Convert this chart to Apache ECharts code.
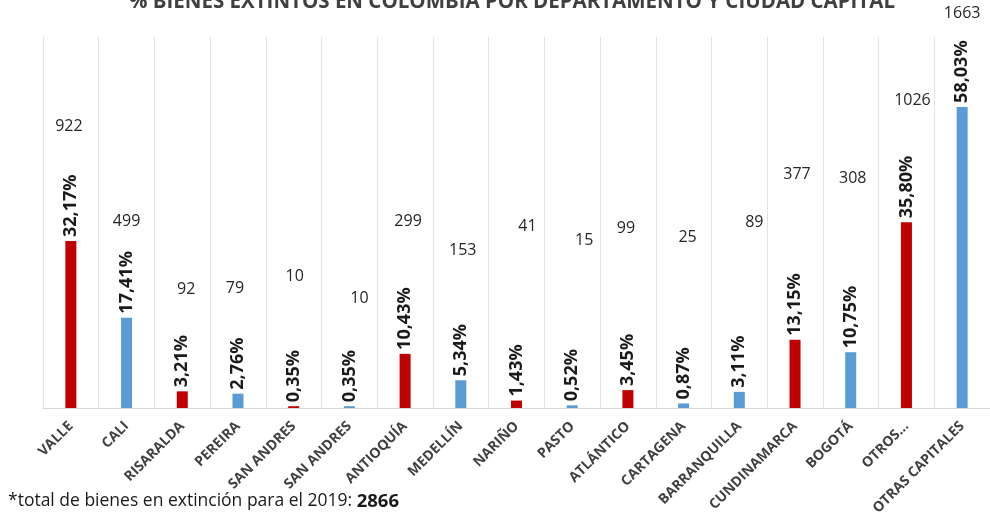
<!DOCTYPE html>
<html>
<head>
<meta charset="utf-8">
<script src="https://cdn.jsdelivr.net/npm/echarts@6/dist/echarts.min.js"></script>
<style>
html,body{margin:0;padding:0;background:#fff;}
#chart{width:990px;height:512px;}
</style>
</head>
<body>
<div id="chart"></div>
<script>
// ---- data ----
const categories = ['VALLE','CALI','RISARALDA','PEREIRA','SAN ANDRES','SAN ANDRES','ANTIOQUÍA','MEDELLÍN','NARIÑO','PASTO','ATLÁNTICO','CARTAGENA','BARRANQUILLA','CUNDINAMARCA','BOGOTÁ','OTROS…','OTRAS CAPITALES'];
const percentages = [32.17,17.41,3.21,2.76,0.35,0.35,10.43,5.34,1.43,0.52,3.45,0.87,3.11,13.15,10.75,35.80,58.03];
const counts = [922,499,92,79,10,10,299,153,41,15,99,25,89,377,308,1026,1663];
const kinds = ['dept','city','dept','city','dept','city','dept','city','dept','city','dept','city','city','dept','city','dept','city'];
const total = 2866;

// ---- styling / layout ----
const kindColor = {dept:'#C00000', city:'#5B9BD5'};
const countLabelLift = [115,96,102,105,130,108,132,130,174,165,162,166,169,165,174,122,93];
const countLabelShift = [-2,0,4,-3,1,10,3,2,11,12,-2,4,15,2,2,6,0];
const FONT = '"Open Sans", sans-serif';

const chart = echarts.init(document.getElementById('chart'));
chart.setOption({
  animation:false,
  backgroundColor:'#ffffff',
  title:{
    text:'% BIENES EXTINTOS EN COLOMBIA POR DEPARTAMENTO Y CIUDAD CAPITAL',
    left:124, top:-13,
    textStyle:{fontFamily:FONT, fontWeight:'bold', fontSize:20.5, color:'#404040'}
  },
  grid:{left:43, right:0, top:37, bottom:104, containLabel:false, outerBoundsMode:'none'},
  xAxis:{
    type:'category',
    data:categories,
    axisLine:{lineStyle:{color:'#d9d9d9'}},
    axisTick:{show:false},
    splitLine:{show:true, interval:0, lineStyle:{color:'#e3e3e3'}},
    axisLabel:{interval:0, rotate:45, margin:16, fontFamily:FONT, fontWeight:'bold', fontSize:14, color:'#404040'}
  },
  yAxis:{type:'value', min:0, max:71.5, show:false, splitLine:{show:false}},
  series:[
    {
      type:'bar',
      barWidth:11,
      data:percentages.map((v,i)=>({value:v, itemStyle:{color:kindColor[kinds[i]]}})),
      label:{
        show:true, position:'top', rotate:90, align:'left', verticalAlign:'middle', distance:4,
        fontFamily:FONT, fontWeight:'bold', fontSize:18, color:'#1a1a1a',
        formatter:p=>p.value.toFixed(2).replace('.',',')+'%'
      }
    },
    {
      type:'bar',
      barWidth:11,
      barGap:'-100%',
      silent:true,
      itemStyle:{color:'rgba(0,0,0,0)'},
      data:percentages.map((v,i)=>({
        value:v,
        label:{position:['50%', -countLabelLift[i]], offset:[countLabelShift[i],0]}
      })),
      label:{
        show:true, align:'center', verticalAlign:'middle',
        fontFamily:FONT, fontSize:16, color:'#262626',
        formatter:p=>String(counts[p.dataIndex])
      }
    }
  ],
  graphic:[{
    type:'text', left:8, top:492,
    style:{
      text:'*total de bienes en extinción para el 2019: {b|'+total+'}',
      rich:{b:{fontWeight:'bold', fontSize:18.5, fontFamily:FONT, fill:'#1a1a1a'}},
      fontFamily:FONT, fontSize:17.5, fill:'#1a1a1a'
    }
  }]
});
</script>
</body>
</html>
